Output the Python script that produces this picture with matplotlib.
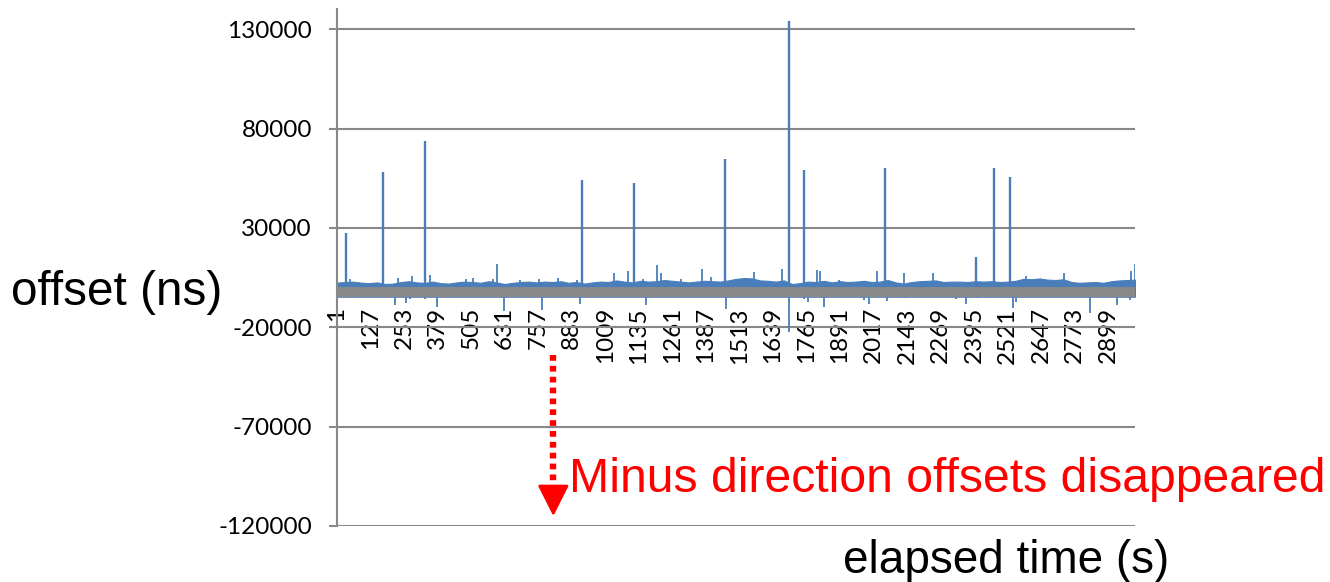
import numpy as np
import matplotlib
matplotlib.use("Agg")
import matplotlib.pyplot as plt

plt.rcParams['font.family'] = ['Lato', 'DejaVu Sans']

# category axis: 1 .. 3000 samples (one per second)
n_points = 3000
x_tick_labels = [1, 127, 253, 379, 505, 631, 757, 883, 1009, 1135, 1261, 1387,
                 1513, 1639, 1765, 1891, 2017, 2143, 2269, 2395, 2521, 2647, 2773, 2899]
y_ticks = [-120000, -70000, -20000, 30000, 80000, 130000]

# upper edge of the dense blue noise, read every 30 samples
env_idx = list(range(1, 3000, 30)) + [3000]
env_val = [2500, 2800, 3000, 2500, 2200, 2600, 1800, 2000, 2800, 3200,
           2600, 2400, 3000, 2200, 2000, 2600, 3000, 2800, 2400, 3200,
           2600, 1800, 2400, 2800, 3000, 2600, 3000, 2800, 3200, 2400,
           2800, 2000, 2600, 3000, 2800, 3600, 3000, 2600, 3400, 3000,
           3200, 3800, 3400, 3000, 2600, 3000, 3400, 3200, 3000, 3600,
           4400, 4800, 4600, 3600, 3400, 3000, 3600, 1800, 2200, 3000,
           2800, 3400, 2600, 3200, 2800, 3000, 3400, 2800, 3000, 3800,
           2600, 2000, 2800, 3200, 3400, 3600, 2800, 3000, 3000, 2800,
           3200, 3000, 3200, 2800, 3000, 3400, 4400, 4200, 4600, 4000,
           3800, 4200, 2800, 2400, 2600, 2800, 2400, 3200, 3600, 3800,
           4000]

# large positive offset spikes
spike_idx = [33, 174, 330, 920, 1119, 1460, 1700, 1756, 2061, 2403, 2471, 2531]
spike_val = [27500, 58400, 74000, 54100, 52600, 64500, 134000, 59300, 60400,
             15600, 60400, 55800]

# smaller positive bumps
bump_idx = [50, 230, 283, 350, 486, 512, 587, 602, 689, 760, 831, 903, 1042,
            1095, 1152, 1204, 1219, 1294, 1373, 1407, 1569, 1674, 1806, 1817,
            1888, 2031, 2133, 2242, 2592, 2734, 2986, 3000]
bump_val = [4500, 5000, 6000, 6500, 4500, 5000, 4500, 11900, 4000, 4200, 5000,
            4000, 7400, 8200, 4500, 11600, 7400, 4200, 9400, 5500, 7700, 9400,
            9000, 8500, 4000, 8500, 7400, 7400, 6000, 7400, 8200, 12000]

# negative dips that reach below the grey band
dip_idx = [219, 260, 275, 331, 377, 629, 772, 915, 1163, 1463, 1700, 1757,
           1772, 1832, 1982, 2001, 2068, 2139, 2328, 2365, 2410, 2542, 2554,
           2832, 2933, 2982]
dip_val = [-9000, -8000, -6000, -6000, -10000, -11900, -11400, -8500, -9000,
           -10700, -22500, -6000, -7400, -9700, -6500, -8500, -7000, -5500,
           -6000, -8200, -5200, -10200, -7500, -13000, -9000, -6500]

# grey band hiding the values near zero
band_hi, band_lo = 300, -4600

blue = '#4a7ebb'
grey = '#888888'

fig = plt.figure(figsize=(13.3, 5.82), dpi=100)
ax = fig.add_axes([337 / 1330, 1 - 526 / 582, 798 / 1330, 516.6 / 582])

# blue offset series
ax.fill_between(env_idx, band_lo, env_val, color=blue, lw=0.8, zorder=2)
ax.vlines(spike_idx, 0, spike_val, color=blue, lw=1.7, zorder=2)
ax.vlines(bump_idx, 0, bump_val, color=blue, lw=1.3, zorder=2)
ax.vlines(dip_idx, 0, dip_val, color=blue, lw=1.3, zorder=2)

# grey band
ax.fill_between([1, n_points], band_lo, band_hi, color=grey, lw=0, zorder=3)

ax.set_xlim(1, n_points)
ax.set_ylim(-120000, 140000)
ax.set_yticks(y_ticks)
ax.set_yticklabels([str(v) for v in y_ticks])
ax.set_xticks(x_tick_labels)
ax.set_xticklabels([str(v) for v in x_tick_labels])

ax.yaxis.grid(True, color=grey, lw=1.5)
ax.set_axisbelow(True)
for side in ['top', 'right']:
    ax.spines[side].set_visible(False)
ax.spines['bottom'].set_position(('data', 0))
ax.spines['bottom'].set_visible(False)
ax.spines['left'].set_color(grey)
ax.spines['left'].set_linewidth(1.5)

ax.tick_params(axis='x', length=0, pad=14, labelsize=17.5, labelrotation=90)
ax.tick_params(axis='y', length=6, width=1.5, color=grey, pad=12, labelsize=17.5)

# red dotted arrow
arrow_x = 814
ax.plot([arrow_x, arrow_x], [-33700, -100500], color='red', lw=4.6,
        linestyle=(0, (0.9, 0.8)), zorder=4)
ax.annotate('', xy=(arrow_x, -115000), xytext=(arrow_x, -100000),
            arrowprops=dict(arrowstyle='-|>,head_length=0.97,head_width=0.49',
                            color='red', lw=2, mutation_scale=20,
                            shrinkA=0, shrinkB=0), zorder=4)

fig.text(11 / 1330, 1 - 305 / 582, 'offset (ns)', fontsize=34.3,
         family='Liberation Sans', va='baseline')
fig.text(843 / 1330, 1 - 573 / 582, 'elapsed time (s)', fontsize=33,
         family='Liberation Sans', va='baseline')
fig.text(569 / 1330, 1 - 492 / 582, 'Minus direction offsets disappeared',
         fontsize=34.7, family='Liberation Sans', color='red', va='baseline')

fig.savefig('out.png', dpi=100)
